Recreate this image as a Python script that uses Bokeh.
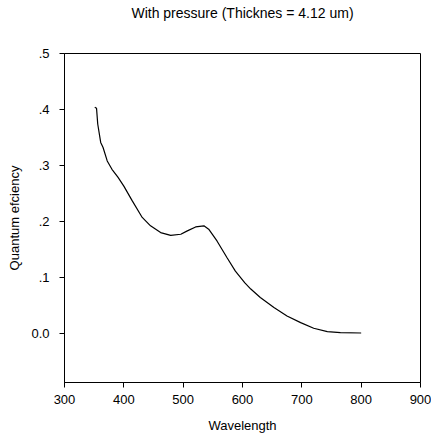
from bokeh.plotting import figure
from bokeh.models import Range1d, FixedTicker, CustomJSTickFormatter, Title
from bokeh.embed import file_html
from bokeh.resources import INLINE

wavelength = [351, 354, 356, 361, 365, 372, 380, 390, 400, 414, 431, 445, 462, 479, 496,
              507, 521, 535, 543, 557, 574, 588, 604, 614, 630, 653, 675, 698, 720, 743,
              765, 800]
qe = [0.404, 0.402, 0.374, 0.341, 0.332, 0.308, 0.293, 0.279, 0.263, 0.237, 0.207, 0.192,
      0.180, 0.175, 0.177, 0.183, 0.190, 0.192, 0.186, 0.165, 0.135, 0.111, 0.090, 0.079,
      0.064, 0.046, 0.031, 0.019, 0.009, 0.003, 0.001, 0.0005]
x_ticks = [300, 400, 500, 600, 700, 800, 900]
y_ticks = [0.0, 0.1, 0.2, 0.3, 0.4, 0.5]
title_text = "With pressure (Thicknes = 4.12 um)"

FONT = "Liberation Sans"

p = figure(width=431, height=437, output_backend="svg", toolbar_location=None,
           x_range=Range1d(300, 900), y_range=Range1d(-0.088, 0.5),
           title=title_text,
           x_axis_label="Wavelength", y_axis_label="Quantum efciency",
           min_border_left=64, min_border_right=11, min_border_top=53, min_border_bottom=55)

p.line(wavelength, qe, line_color="black", line_width=1.2)

p.title.align = "center"
p.title.vertical_align = "top"
p.title.text_font = FONT
p.title.text_font_size = "14px"
p.title.text_font_style = "normal"
p.title.text_color = "black"
p.title.standoff = 0

# blank spacer between the title and the frame
p.add_layout(Title(text=" ", text_font=FONT, text_font_size="14px", standoff=13), "above")

p.grid.visible = False
p.outline_line_color = "black"
p.outline_line_width = 1
p.outline_line_alpha = 1

p.xaxis.ticker = FixedTicker(ticks=x_ticks)
p.yaxis.ticker = FixedTicker(ticks=y_ticks)
p.yaxis.formatter = CustomJSTickFormatter(code="""
return Math.abs(tick) < 1e-9 ? "0.0" : tick.toFixed(1).replace(/^0/, "");
""")

for ax in (p.xaxis, p.yaxis):
    ax.axis_line_color = "black"
    ax.major_tick_line_color = "black"
    ax.major_tick_in = 0
    ax.major_tick_out = 5
    ax.minor_tick_line_color = None
    ax.major_label_text_font = FONT
    ax.major_label_text_font_size = "13px"
    ax.major_label_text_color = "black"
    ax.axis_label_text_font = FONT
    ax.axis_label_text_font_size = "13px"
    ax.axis_label_text_font_style = "normal"
    ax.axis_label_text_color = "black"

p.xaxis.major_label_standoff = 7
p.xaxis.axis_label_standoff = 11
p.yaxis.major_label_standoff = 10
p.yaxis.axis_label_standoff = 6
p.yaxis.major_label_orientation = "horizontal"

open("out.html", "w").write(file_html(p, INLINE))
